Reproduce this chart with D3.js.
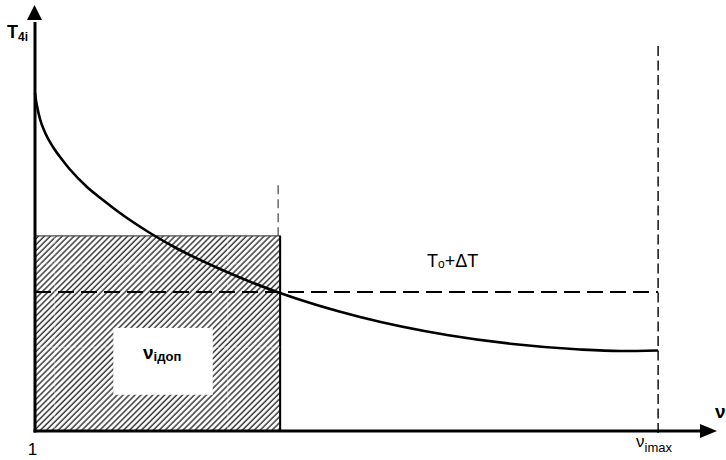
<!DOCTYPE html>
<html>
<head>
<meta charset="utf-8">
<script src="https://cdn.jsdelivr.net/npm/d3@7"></script>
<style>
  html, body { margin: 0; padding: 0; background: #fff; }
  svg { display: block; }
  text { font-family: "Liberation Sans", Arial, sans-serif; fill: #000; }
</style>
</head>
<body>
<svg id="chart" width="726" height="460"></svg>
<script>
// ---- data (axis units: ν 0..100 along the horizontal axis, T 0..100 along the vertical axis)
const curveNu = [0, 0.147, 0.294, 0.734, 1.468, 2.643, 3.965, 5.14, 7.636, 9.985, 12.48, 16.89, 20.85, 27.17, 35.98, 47.72, 60.5, 70.19, 80.03, 85.9, 91.48];
const curveT  = [79.34, 77.58, 76.29, 73.24, 70.07, 66.67, 63.73, 61.38, 57.28, 54.23, 51.17, 46.48, 42.84, 38.03, 32.39, 26.76, 22.54, 20.42, 19.13, 18.78, 18.9];
const nuAllowed = 36.0;       // right edge of hatched region (ν_iдоп)
const nuAllowedGuide = 35.7;  // dashed guide above it
const rectTop = 45.8;         // top of hatched region
const nuMax = 91.5;           // ν_imax
const tThreshold = 32.6;      // T0+ΔT
const labelBoxNu = [11.5, 26.1];
const labelBoxT = [8.5, 24.2];
const hatchGuideNu = [2.9, 28.3];
const hatchGuideT = [39.2, 19.7];
const tickLabels = ["1", "ν", "imax"];

// ---- scales
const x = d3.scaleLinear().domain([0, 100]).range([35, 716]);
const y = d3.scaleLinear().domain([0, 100]).range([431, 5]);

const svg = d3.select("#chart");
const defs = svg.append("defs");
const P = 4.2;
const pat = defs.append("pattern")
  .attr("id", "hatch")
  .attr("patternUnits", "userSpaceOnUse")
  .attr("width", P).attr("height", P)
  .attr("patternTransform", "rotate(45)");
pat.append("rect").attr("width", P).attr("height", P).attr("fill", "#fff");
pat.append("line").attr("x1", 1).attr("y1", 0).attr("x2", 1).attr("y2", P)
  .attr("stroke", "#3a3a3a").attr("stroke-width", 1.5);

// hatched region
svg.append("rect")
  .attr("x", x(0)).attr("y", y(rectTop))
  .attr("width", x(nuAllowed) - x(0))
  .attr("height", y(0) - y(rectTop))
  .attr("fill", "url(#hatch)")
  .attr("stroke", "#444").attr("stroke-width", 1.2);
svg.append("line")
  .attr("x1", x(nuAllowed)).attr("x2", x(nuAllowed))
  .attr("y1", y(rectTop)).attr("y2", y(0))
  .attr("stroke", "#000").attr("stroke-width", 2);

// faint guides inside hatch
hatchGuideNu.forEach(v => svg.append("line")
  .attr("x1", x(v)).attr("x2", x(v)).attr("y1", y(rectTop)).attr("y2", y(0))
  .attr("stroke", "#fff").attr("stroke-opacity", 0.4).attr("stroke-width", 1.2)
  .attr("stroke-dasharray", "8,3"));
hatchGuideT.forEach(v => svg.append("line")
  .attr("x1", x(0)).attr("x2", x(nuAllowed)).attr("y1", y(v)).attr("y2", y(v))
  .attr("stroke", "#fff").attr("stroke-opacity", 0.4).attr("stroke-width", 1.2)
  .attr("stroke-dasharray", "8,3"));

// white label box
svg.append("rect")
  .attr("x", x(labelBoxNu[0])).attr("y", y(labelBoxT[1]))
  .attr("width", x(labelBoxNu[1]) - x(labelBoxNu[0]))
  .attr("height", y(labelBoxT[0]) - y(labelBoxT[1]))
  .attr("fill", "#fff");

// dashed guides
svg.append("line")
  .attr("x1", x(0)).attr("x2", x(nuMax))
  .attr("y1", y(tThreshold)).attr("y2", y(tThreshold))
  .attr("stroke", "#000").attr("stroke-width", 2)
  .attr("stroke-dasharray", "16,7");
svg.append("line")
  .attr("x1", x(nuMax)).attr("x2", x(nuMax))
  .attr("y1", y(90.4)).attr("y2", y(-1))
  .attr("stroke", "#000").attr("stroke-width", 1.4)
  .attr("stroke-dasharray", "10,4.5");
svg.append("line")
  .attr("x1", x(nuAllowedGuide)).attr("x2", x(nuAllowedGuide))
  .attr("y1", y(57.7)).attr("y2", y(rectTop))
  .attr("stroke", "#333").attr("stroke-width", 1.1)
  .attr("stroke-dasharray", "9,5");

// curve
const pts = curveNu.map((v, i) => [v, curveT[i]]);
svg.append("path")
  .datum(pts)
  .attr("fill", "none")
  .attr("stroke", "#000").attr("stroke-width", 2.6)
  .attr("d", d3.line().x(d => x(d[0])).y(d => y(d[1])).curve(d3.curveMonotoneX));

// axes
svg.append("line")
  .attr("x1", x(0)).attr("x2", x(0)).attr("y1", y(0) + 1.5).attr("y2", y(96))
  .attr("stroke", "#000").attr("stroke-width", 3);
svg.append("line")
  .attr("x1", x(0) - 1.5).attr("x2", x(98)).attr("y1", y(0)).attr("y2", y(0))
  .attr("stroke", "#000").attr("stroke-width", 3);
svg.append("path")
  .attr("d", `M${x(0) - 0.5},${y(100)} L${x(0) - 8},${y(100) + 15} L${x(0) + 7},${y(100) + 15} Z`)
  .attr("fill", "#000");
svg.append("path")
  .attr("d", `M${x(100) + 1},${y(0)} L${x(100) - 16},${y(0) - 7} L${x(100) - 16},${y(0) + 7} Z`)
  .attr("fill", "#000");

// texts
const tLab = svg.append("text").attr("x", 7).attr("y", 38).attr("font-weight", "bold");
tLab.append("tspan").attr("font-size", 18).text("T");
tLab.append("tspan").attr("font-size", 12).attr("dy", 3).text("4i");

svg.append("text").attr("x", x(0) - 2.5).attr("y", 455).attr("text-anchor", "middle")
  .attr("font-size", 17).text(tickLabels[0]);

const nmax = svg.append("text").attr("x", x(nuMax) - 22).attr("y", 447);
nmax.append("tspan").attr("font-size", 17).text(tickLabels[1]);
nmax.append("tspan").attr("font-size", 13).attr("dy", 5).text(tickLabels[2]);

svg.append("text").attr("x", 715).attr("y", 418).attr("font-size", 19)
  .attr("font-weight", "bold").text("ν");

const thr = svg.append("text").attr("x", 427).attr("y", 267);
thr.append("tspan").attr("font-size", 18).text("T");
thr.append("tspan").attr("font-size", 12).attr("dy", 1).text("o");
thr.append("tspan").attr("font-size", 18).attr("dy", -1).text("+ΔT");

const lab = svg.append("text").attr("x", 143).attr("y", 359).attr("font-weight", "bold");
lab.append("tspan").attr("font-size", 19).text("ν");
lab.append("tspan").attr("font-size", 13).attr("dy", 2).text("ідоп");
</script>
</body>
</html>
